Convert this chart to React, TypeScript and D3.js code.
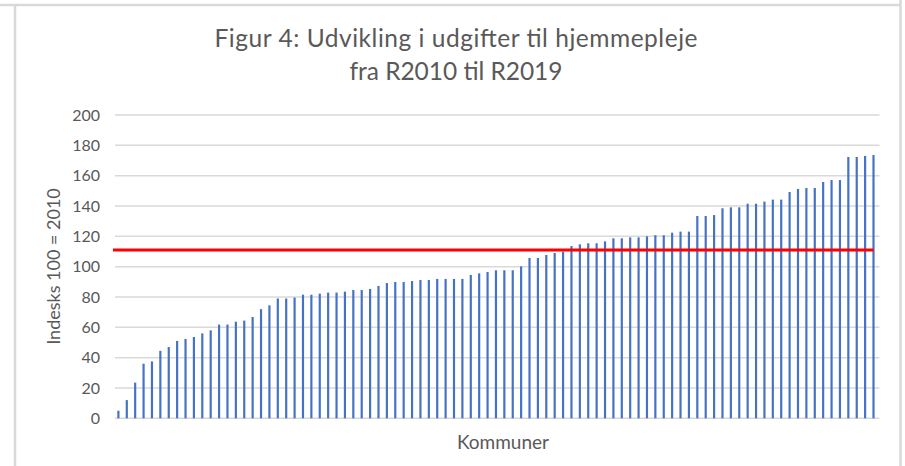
import React, { useRef, useEffect } from "react";
import * as d3 from "d3";

// Indeks (100 = 2010) per kommune, sorteret stigende
const kommuneValues = [
  5, 12, 23.5, 36, 37.5, 44.5, 47, 51, 52.3, 53.6,
  56, 58, 61.8, 61.8, 63.7, 64.4, 66.8, 72, 74.5, 79,
  79, 79.6, 81.5, 81.5, 82.2, 82.9, 82.9, 83.5, 84.6, 84.6,
  85.3, 87.3, 89.2, 89.9, 89.9, 90.5, 91.2, 91.2, 91.9, 91.9,
  91.9, 91.9, 94.5, 95.6, 96.5, 97.6, 97.6, 97.6, 100.2, 105.7,
  105.7, 107.7, 109, 109.9, 113.6, 114.7, 115.4, 115.4, 116.7, 118.7,
  118.7, 119.3, 119.3, 120, 120.7, 120.7, 122.4, 123.1, 123.1, 133.4,
  133.4, 134, 138.5, 139.1, 139.1, 141.5, 141.5, 142.9, 144.2, 144.2,
  149.2, 151.2, 151.9, 151.9, 155.8, 157.1, 157.1, 172.3, 172.3, 173,
  173.6,
];
const kommuner = kommuneValues.map((_, i) => `K${i + 1}`);
const average = 111;
const yTicks = [0, 20, 40, 60, 80, 100, 120, 140, 160, 180, 200];
const titleLines = ["Figur 4: Udvikling i udgifter til hjemmepleje", "fra R2010 til R2019"];
const titleWidths = [483, 213];
const yTitle = "Indesks 100 = 2010";
const xTitle = "Kommuner";

const App = () => {
  const ref = useRef<SVGSVGElement>(null);

  useEffect(() => {
    const width = 905;
    const height = 466;
    const plot = { left: 115, right: 879.5, top: 115, bottom: 418.3 };
    const font = "Lato, 'Open Sans', sans-serif";
    const textColor = "#595959";
    const gridColor = "#d9d9d9";

    const svg = d3.select(ref.current).attr("width", width).attr("height", height);
    svg.selectAll("*").remove();

    const x = d3.scaleBand<string>()
      .domain(kommuner)
      .range([plot.left, plot.right])
      .paddingInner(0.74)
      .paddingOuter(0.43)
      .align(0.32);

    const y = d3.scaleLinear().domain([0, 200]).range([plot.bottom, plot.top]);

    // frame
    const frame = svg.append("g").attr("stroke", gridColor).attr("stroke-width", 2.5).attr("fill", "none");
    frame.append("line").attr("x1", 0).attr("x2", 901).attr("y1", 5).attr("y2", 5);
    frame.append("line").attr("x1", 15).attr("x2", 15).attr("y1", 5).attr("y2", height);
    frame.append("line").attr("x1", 900.5).attr("x2", 900.5).attr("y1", 0).attr("y2", height);

    // title
    svg.append("g")
      .selectAll("text")
      .data(titleLines)
      .enter()
      .append("text")
      .attr("x", 456)
      .attr("y", (d, i) => 46.5 + i * 33.5)
      .attr("text-anchor", "middle")
      .attr("font-family", font)
      .attr("font-size", 24.5)
      .attr("textLength", (d, i) => titleWidths[i])
      .attr("lengthAdjust", "spacing")
      .attr("fill", textColor)
      .text(d => d);

    // gridlines
    svg.append("g")
      .selectAll("line")
      .data(yTicks)
      .enter()
      .append("line")
      .attr("x1", plot.left)
      .attr("x2", plot.right)
      .attr("y1", d => y(d))
      .attr("y2", d => y(d))
      .attr("stroke", gridColor)
      .attr("stroke-width", 1.5);

    // y tick labels
    svg.append("g")
      .selectAll("text")
      .data(yTicks)
      .enter()
      .append("text")
      .attr("x", 100)
      .attr("y", d => y(d))
      .attr("dy", "0.36em")
      .attr("text-anchor", "end")
      .attr("font-family", font)
      .attr("font-size", 16)
      .attr("fill", textColor)
      .text(d => d);

    // bars
    svg.append("g")
      .selectAll("rect")
      .data(kommuneValues)
      .enter()
      .append("rect")
      .attr("x", (d, i) => x(kommuner[i]))
      .attr("width", x.bandwidth())
      .attr("y", d => y(d))
      .attr("height", d => y(0) - y(d))
      .attr("fill", "#4472c4");

    // average line
    const last = kommuner[kommuner.length - 1];
    svg.append("line")
      .attr("x1", plot.left - 2)
      .attr("x2", x(last) + x.bandwidth() / 2)
      .attr("y1", y(average))
      .attr("y2", y(average))
      .attr("stroke", "#ff0000")
      .attr("stroke-width", 3);

    // axis titles
    svg.append("text")
      .attr("transform", `translate(53, 266.5) rotate(-90)`)
      .attr("text-anchor", "middle")
      .attr("dominant-baseline", "central")
      .attr("font-family", font)
      .attr("font-size", 18)
      .attr("fill", textColor)
      .text(yTitle);

    svg.append("text")
      .attr("x", 503)
      .attr("y", 449)
      .attr("text-anchor", "middle")
      .attr("font-family", font)
      .attr("font-size", 19)
      .attr("fill", textColor)
      .text(xTitle);
  }, []);

  return (
    <div style={{ position: "absolute", left: 0, top: 0, width: 905, height: 466, background: "#fff" }}>
      <svg ref={ref} style={{ display: "block" }}></svg>
    </div>
  );
};

export default App;
